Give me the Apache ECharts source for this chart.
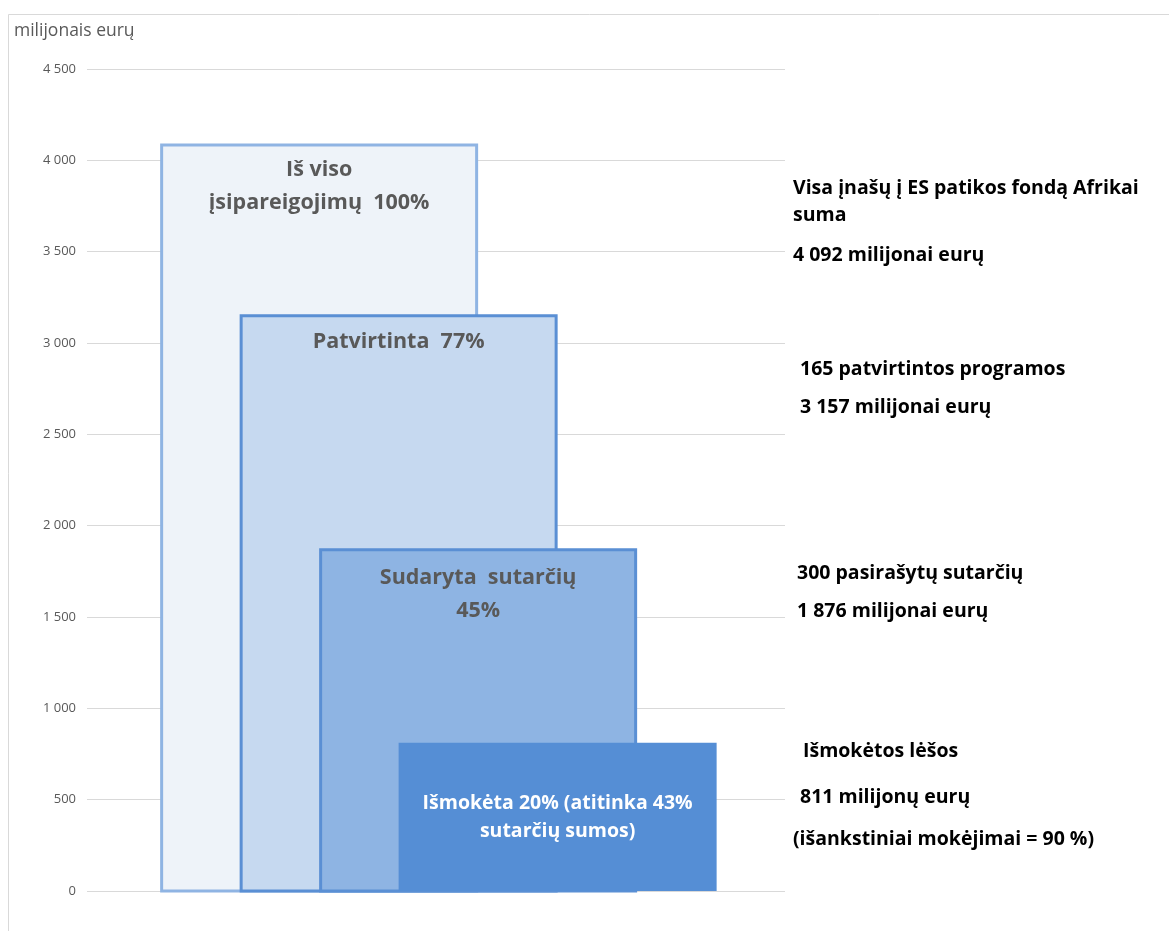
<!DOCTYPE html>
<html><head><meta charset="utf-8">
<script src="https://cdn.jsdelivr.net/npm/echarts@6/dist/echarts.min.js"></script>
<style>html,body{margin:0;padding:0;background:#fff}#c{width:1169px;height:931px}</style>
</head><body><div id="c"></div>
<script>
// Data
const stageNames = ['Iš viso\nįsipareigojimų  100%', 'Patvirtinta  77%', 'Sudaryta  sutarčių\n45%', 'Išmokėta 20% (atitinka 43%\nsutarčių sumos)'];
const stageValues = [4092, 3157, 1876, 811];
const stageStart = [0, 1, 2, 3];
const stageSpan = 4;
const yTicks = [0, 500, 1000, 1500, 2000, 2500, 3000, 3500, 4000, 4500];
const noteTexts = [
  ['Visa įnašų į ES patikos fondą Afrikai', 'suma', '4 092 milijonai eurų'],
  ['165 patvirtintos programos', '3 157 milijonai eurų'],
  ['300 pasirašytų sutarčių', '1 876 milijonai eurų'],
  ['Išmokėtos lėšos', '811 milijonų eurų', '(išankstiniai mokėjimai = 90 %)']
];
const axisTitle = 'milijonais eurų';

const FONT = '"Open Sans", sans-serif';
const fills = ['#eef3f9', '#c6d9f0', '#8eb4e3', '#558ed5'];
const strokes = ['#8fb4e3', '#5a8fd4', '#5a8fd4', '#558ed5'];
const labelColors = ['#595959', '#595959', '#595959', '#ffffff'];
const labelOffsets = [10, 11, 13, null];

const data = stageValues.map((v, i) => [stageStart[i], v, i]);

const chart = echarts.init(document.getElementById('c'));
chart.setOption({
  animation: false,
  backgroundColor: '#fff',
  grid: { left: 87, right: 384, top: 69, bottom: 40 },
  xAxis: { type: 'value', min: -0.92, max: 7.86, show: false },
  yAxis: {
    type: 'value', min: yTicks[0], max: yTicks[yTicks.length - 1], interval: 500,
    axisLine: { show: false }, axisTick: { show: false },
    splitLine: { lineStyle: { color: '#d9d9d9', width: 1 } },
    axisLabel: {
      color: '#595959', fontSize: 13, fontFamily: FONT, margin: 11,
      formatter: v => String(v).replace(/\B(?=(\d{3})+(?!\d))/g, ' ')
    }
  },
  series: [{
    type: 'custom',
    data: data,
    encode: { x: 0, y: 1 },
    renderItem: function (params, api) {
      const i = api.value(2);
      const p0 = api.coord([api.value(0), api.value(1)]);
      const p1 = api.coord([api.value(0) + stageSpan, 0]);
      const bw = i === 3 ? 0 : 3;
      const x = p0[0] + bw / 2, y = p0[1] + bw / 2;
      const w = p1[0] - p0[0] - bw, h = p1[1] - p0[1] - bw / 2;
      const cx = (p0[0] + p1[0]) / 2;
      const isLast = i === 3;
      return {
        type: 'group',
        children: [{
          type: 'rect',
          shape: { x: x, y: y, width: w, height: h },
          style: { fill: fills[i], stroke: bw ? strokes[i] : null, lineWidth: bw }
        }, {
          type: 'text',
          style: {
            text: stageNames[i],
            x: cx,
            y: isLast ? (p0[1] + p1[1]) / 2 + 1 : p0[1] + labelOffsets[i],
            align: 'center',
            verticalAlign: isLast ? 'middle' : 'top',
            font: (isLast ? 'bold 19.5px ' : 'bold 21.5px ') + FONT,
            lineHeight: isLast ? 28 : 33,
            fill: labelColors[i]
          }
        }]
      };
    }
  }]
});

// Notes beside the bars, anchored to the bar values
const noteX = [793, 800, 797, [803, 800, 793]];
const noteDy = [[45, 72, 112], [55, 93], [25, 63], [9, 55, 97]];
const graphics = [
  { type: 'rect', silent: true, z: -1, shape: { x: 8.5, y: 14.5, width: 1200, height: 1000 }, style: { fill: 'none', stroke: '#d9d9d9', lineWidth: 1 } },
  { type: 'text', x: 14, y: 31, style: { text: axisTitle, font: '17.5px ' + FONT, fill: '#595959', verticalAlign: 'middle' } }
];
stageValues.forEach((v, i) => {
  const top = chart.convertToPixel({ gridIndex: 0 }, [0, v])[1];
  noteTexts[i].forEach((t, j) => {
    const nx = Array.isArray(noteX[i]) ? noteX[i][j] : noteX[i];
    graphics.push({
      type: 'text', x: nx, y: top + noteDy[i][j],
      style: { text: t, font: 'bold 19.5px ' + FONT, fill: '#000', verticalAlign: 'middle', align: 'left' }
    });
  });
});
chart.setOption({ graphic: graphics });
</script>
</body></html>
